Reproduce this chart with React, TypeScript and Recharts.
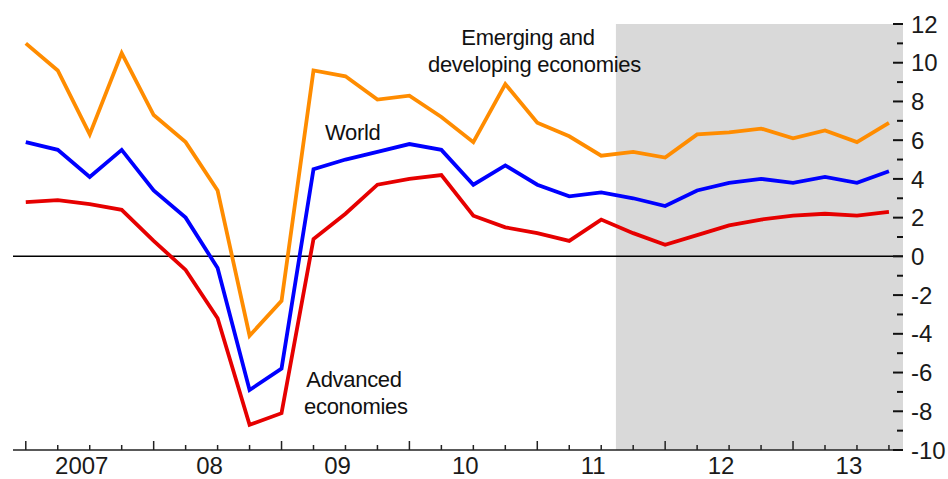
import { LineChart, Line, XAxis, YAxis, ReferenceArea, ReferenceLine } from 'recharts'

const FONT = '"Liberation Sans", Arial, sans-serif'

// quarterly, 2007Q1 .. 2013Q4
const quarters = [
  '2007Q1', '2007Q2', '2007Q3', '2007Q4',
  '2008Q1', '2008Q2', '2008Q3', '2008Q4',
  '2009Q1', '2009Q2', '2009Q3', '2009Q4',
  '2010Q1', '2010Q2', '2010Q3', '2010Q4',
  '2011Q1', '2011Q2', '2011Q3', '2011Q4',
  '2012Q1', '2012Q2', '2012Q3', '2012Q4',
  '2013Q1', '2013Q2', '2013Q3', '2013Q4',
]
const yearLabels = ['2007', '08', '09', '10', '11', '12', '13']

const emerging = [11.0, 9.6, 6.3, 10.5, 7.3, 5.9, 3.4, -4.1, -2.3, 9.6, 9.3, 8.1, 8.3, 7.2, 5.9, 8.9, 6.9, 6.2, 5.2, 5.4, 5.1, 6.3, 6.4, 6.6, 6.1, 6.5, 5.9, 6.9]
const world = [5.9, 5.5, 4.1, 5.5, 3.4, 2.0, -0.6, -6.9, -5.8, 4.5, 5.0, 5.4, 5.8, 5.5, 3.7, 4.7, 3.7, 3.1, 3.3, 3.0, 2.6, 3.4, 3.8, 4.0, 3.8, 4.1, 3.8, 4.4]
const advanced = [2.8, 2.9, 2.7, 2.4, 0.8, -0.7, -3.2, -8.7, -8.1, 0.9, 2.2, 3.7, 4.0, 4.2, 2.1, 1.5, 1.2, 0.8, 1.9, 1.2, 0.6, 1.1, 1.6, 1.9, 2.1, 2.2, 2.1, 2.3]

const yTicks = [-10, -9, -8, -7, -6, -5, -4, -3, -2, -1, 0, 1, 2, 3, 4, 5, 6, 7, 8, 9, 10, 11, 12]
// projection shading starts mid 2011Q3
const projectionStart = 18.46
const xDomain = [-0.4, 27.44]

const data = quarters.map((q, i) => ({
  q,
  idx: i,
  emerging: emerging[i],
  world: world[i],
  advanced: advanced[i],
}))

const xTicks = [
  ...quarters.map((_, i) => i),
  ...yearLabels.map((_, i) => i * 4 + 1.75),
]

function XTick(props: any) {
  const { x, y, payload } = props
  const v = payload.value
  if (Number.isInteger(v)) {
    const major = v % 4 === 0
    return <line x1={x} x2={x} y1={y} y2={y - (major ? 9 : 5)} stroke="#222" strokeWidth={1.5} />
  }
  return (
    <text x={x} y={y + 24} textAnchor="middle" fontSize={24} fontFamily={FONT} fill="#1a1a1a">
      {yearLabels[Math.floor(v / 4)]}
    </text>
  )
}

function RightTick(props: any) {
  const { x, y, payload } = props
  const v = payload.value
  const major = v % 2 === 0
  return (
    <g>
      <line x1={x} x2={x - (major ? 10 : 6)} y1={y} y2={y} stroke="#111" strokeWidth={2} />
      {major && (
        <text x={x + 8} y={y} dy="0.36em" textAnchor="start" fontSize={24} fontFamily={FONT} fill="#1a1a1a">
          {v}
        </text>
      )}
    </g>
  )
}

function LeftTick(props: any) {
  const { x, y, payload } = props
  const major = payload.value % 2 === 0
  return <line x1={x} x2={x + (major ? 10 : 5)} y1={y} y2={y} stroke="#111" strokeWidth={2} />
}

const noteStyle: React.CSSProperties = {
  position: 'absolute',
  fontFamily: FONT,
  fontSize: 22,
  lineHeight: '27px',
  color: '#111',
  textAlign: 'center',
  whiteSpace: 'nowrap',
  letterSpacing: '-0.3px',
}

export default function App() {
  return (
    <div style={{ position: 'absolute', left: 0, top: 0, width: 948, height: 479, background: '#fff' }}>
      <LineChart width={948} height={479} data={data} margin={{ top: 24, right: 0, bottom: 0, left: 0 }}>
        <ReferenceArea
          yAxisId="right"
          x1={projectionStart}
          x2={xDomain[1]}
          y1={-10}
          y2={12}
          fill="#d9d9d9"
          fillOpacity={1}
          stroke="none"
        />
        <XAxis
          dataKey="idx"
          type="number"
          domain={xDomain}
          ticks={xTicks}
          interval={0}
          height={29}
          tickSize={0}
          tickMargin={0}
          tickLine={false}
          tick={<XTick />}
          axisLine={{ stroke: '#222', strokeWidth: 1.5 }}
        />
        <YAxis
          yAxisId="left"
          orientation="left"
          width={13}
          domain={[-10, 12]}
          ticks={yTicks}
          interval={0}
          tickSize={0}
          tickMargin={0}
          tickLine={false}
          axisLine={false}
          tick={<LeftTick />}
        />
        <YAxis
          yAxisId="right"
          orientation="right"
          width={45}
          domain={[-10, 12]}
          ticks={yTicks}
          interval={0}
          tickSize={0}
          tickMargin={0}
          tickLine={false}
          axisLine={false}
          tick={<RightTick />}
        />
        <ReferenceLine yAxisId="right" y={0} stroke="#000" strokeWidth={1.5} />
        <Line yAxisId="right" type="linear" dataKey="emerging" stroke="#ff8c00" strokeWidth={3.8} strokeLinejoin="miter" dot={false} isAnimationActive={false} />
        <Line yAxisId="right" type="linear" dataKey="world" stroke="#0000ff" strokeWidth={3.8} strokeLinejoin="miter" dot={false} isAnimationActive={false} />
        <Line yAxisId="right" type="linear" dataKey="advanced" stroke="#e60000" strokeWidth={3.8} strokeLinejoin="miter" dot={false} isAnimationActive={false} />
      </LineChart>

      <div style={{ ...noteStyle, left: 428, top: 24, width: 200 }}>
        Emerging and<br />developing economies
      </div>
      <div style={{ ...noteStyle, left: 325, top: 119, textAlign: 'left' }}>World</div>
      <div style={{ ...noteStyle, left: 304, top: 366, width: 100 }}>
        Advanced<br />economies
      </div>
    </div>
  )
}
